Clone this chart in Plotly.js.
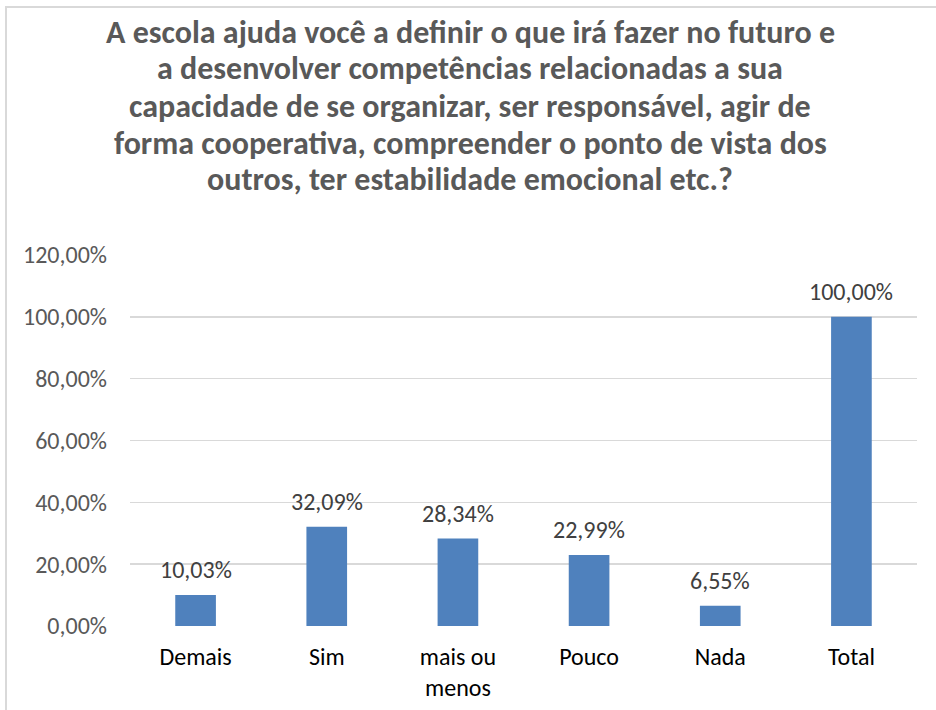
<!DOCTYPE html>
<html>
<head>
<meta charset="utf-8">
<script src="https://cdn.plot.ly/plotly-3.0.1.min.js"></script>
<style>
  html, body { margin: 0; padding: 0; background: #fff; }
  #wrap { position: relative; width: 936px; height: 710px; overflow: hidden; }
  #chart { position: absolute; left: 0; top: 0; width: 936px; height: 710px; }
  #frame { position: absolute; left: 5px; top: 6px; width: 960px; height: 740px;
           border-left: 2px solid #d9d9d9; border-top: 2px solid #d9d9d9; pointer-events: none; }
</style>
</head>
<body>
<div id="wrap">
  <div id="chart"></div>
  <div id="frame"></div>
</div>
<script>
const categories = ["Demais", "Sim", "mais ou<br>menos", "Pouco", "Nada", "Total"];
const values = [10.03, 32.09, 28.34, 22.99, 6.55, 100.00];
const valueLabels = ["10,03%", "32,09%", "28,34%", "22,99%", "6,55%", "100,00%"];
const yTickVals = [0, 20, 40, 60, 80, 100, 120];
const yTickText = ["0,00%", "20,00%", "40,00%", "60,00%", "80,00%", "100,00%", "120,00%"];
const titleLines = [
  "A escola ajuda você a definir o que irá fazer no futuro e",
  "a desenvolver competências relacionadas a sua",
  "capacidade de se organizar, ser responsável, agir de",
  "forma cooperativa, compreender o ponto de vista dos",
  "outros, ter estabilidade emocional etc.?"
];

const FONT = "Carlito, Lato, 'Liberation Sans', sans-serif";
const PLOT_H = 371, ZERO_PX = 626;
const titleCenters = [32, 69, 106, 143, 180];

const trace = {
  type: "bar",
  x: categories,
  y: values,
  marker: { color: "#4f81bd" },
  hoverinfo: "none"
};

const annotations = categories.map((c, i) => ({
  x: c, y: values[i], xref: "x", yref: "y",
  text: valueLabels[i], showarrow: false,
  yanchor: "middle", yshift: 25,
  font: { family: FONT, size: 24, color: "#404040" }
}));

titleLines.forEach((t, i) => {
  annotations.push({
    xref: "paper", yref: "paper",
    x: (470 - 130) / 787, y: (ZERO_PX - titleCenters[i]) / PLOT_H,
    xanchor: "center", yanchor: "middle",
    text: "<b>" + t + "</b>", showarrow: false,
    font: { family: FONT, size: 32, color: "#595959" }
  });
});

const layout = {
  width: 936, height: 710,
  margin: { l: 130, r: 19, t: 255, b: 84 },
  paper_bgcolor: "#ffffff", plot_bgcolor: "#ffffff",
  showlegend: false,
  bargap: 0.69,
  xaxis: {
    type: "category",
    showgrid: false, zeroline: false,
    showline: false,
    ticks: "",
    ticklabelstandoff: 14,
    tickfont: { family: FONT, size: 24, color: "#000000" },
    fixedrange: true
  },
  yaxis: {
    range: [0, 120],
    tickvals: yTickVals, ticktext: yTickText,
    showgrid: true, gridcolor: "#d9d9d9", gridwidth: 1.5,
    zeroline: false, showline: false, ticks: "",
    ticklabelstandoff: 22,
    tickfont: { family: FONT, size: 24, color: "#595959" },
    fixedrange: true
  },
  annotations: annotations
};

Plotly.newPlot("chart", [trace], layout, { displayModeBar: false, staticPlot: true });
</script>
</body>
</html>
